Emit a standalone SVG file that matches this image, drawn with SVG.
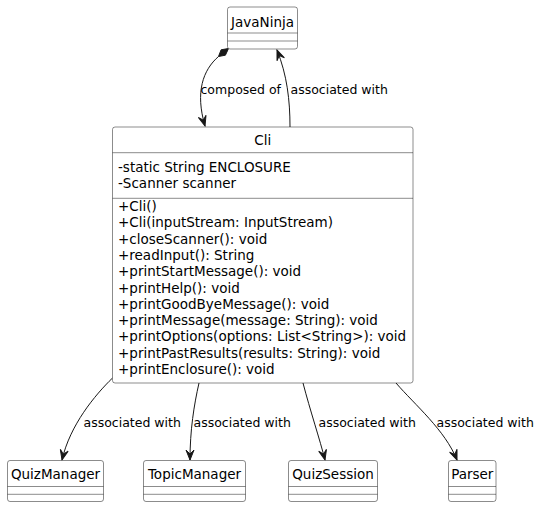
<svg xmlns="http://www.w3.org/2000/svg" width="541" height="508" viewBox="0 0 541 508">
  <style>
    .box { fill: #FFFFFF; stroke: #181818; stroke-width: 0.5; }
    .sep { stroke: #181818; stroke-width: 0.5; }
    .title { font-family: "DejaVu Sans", sans-serif; font-size: 13.5px; fill: #000000; text-anchor: middle; }
    .member { font-family: "DejaVu Sans", sans-serif; font-size: 13.5px; fill: #000000; }
    .edge { fill: none; stroke: #181818; stroke-width: 1; }
    .label { font-family: "DejaVu Sans", sans-serif; font-size: 12.5px; fill: #000000; }
  </style>
  <defs>
    <marker id="arrow" viewBox="-11 -5 12 10" refX="0" refY="0" markerWidth="12" markerHeight="10" markerUnits="userSpaceOnUse" orient="auto">
      <path d="M0,0 L-10,-4 L-6,0 L-10,4 Z" fill="#181818" stroke="#181818" stroke-width="1"/>
    </marker>
  </defs>
  <rect width="541" height="508" fill="#FFFFFF"/>

  <g id="connectors">
    <polygon points="228.5,48.5 225.4,55.2 218.5,56.5 221.1,49.8" fill="#181818" stroke="#181818" stroke-width="1"/>
    <path class="edge" d="M218.5,56.5 C203,70 195,92 205,126" marker-end="url(#arrow)"/>
    <text class="label" x="200.5" y="94">composed of</text>
    <path class="edge" d="M290,127 C290,100 287,75 277,50" marker-end="url(#arrow)"/>
    <text class="label" x="290.5" y="94">associated with</text>

    <path class="edge" d="M112.5,378 C95,395 70,425 62,460" marker-end="url(#arrow)"/>
    <text class="label" x="83.5" y="427">associated with</text>
    <path class="edge" d="M199,383 C194,405 190,430 190,460" marker-end="url(#arrow)"/>
    <text class="label" x="193.5" y="427">associated with</text>
    <path class="edge" d="M303,383 C310,410 320,440 325,460" marker-end="url(#arrow)"/>
    <text class="label" x="318.5" y="427">associated with</text>
    <path class="edge" d="M396,383 C415,405 445,430 457,460" marker-end="url(#arrow)"/>
    <text class="label" x="436.5" y="427">associated with</text>
  </g>

  <g id="JavaNinja">
    <rect class="box" x="227.5" y="7" width="70" height="42" rx="2.5"/>
    <text class="title" x="262.5" y="26.5">JavaNinja</text>
    <line class="sep" x1="227.5" y1="33" x2="297.5" y2="33"/>
    <line class="sep" x1="227.5" y1="41" x2="297.5" y2="41"/>
  </g>

  <g id="Cli">
    <rect class="box" x="112.5" y="127" width="300.5" height="256" rx="2.5"/>
    <text class="title" x="262.75" y="145">Cli</text>
    <line class="sep" x1="112.5" y1="152.7" x2="413" y2="152.7"/>
    <text class="member" x="118" y="171.5">-static String ENCLOSURE</text>
    <text class="member" x="118" y="187.5">-Scanner scanner</text>
    <line class="sep" x1="112.5" y1="198.3" x2="413" y2="198.3"/>
    <text class="member" x="118" y="211">+Cli()</text>
    <text class="member" x="118" y="227.3">+Cli(inputStream: InputStream)</text>
    <text class="member" x="118" y="243.6">+closeScanner(): void</text>
    <text class="member" x="118" y="259.9">+readInput(): String</text>
    <text class="member" x="118" y="276.2">+printStartMessage(): void</text>
    <text class="member" x="118" y="292.5">+printHelp(): void</text>
    <text class="member" x="118" y="308.8">+printGoodByeMessage(): void</text>
    <text class="member" x="118" y="325.1">+printMessage(message: String): void</text>
    <text class="member" x="118" y="341.4">+printOptions(options: List&lt;String&gt;): void</text>
    <text class="member" x="118" y="357.7">+printPastResults(results: String): void</text>
    <text class="member" x="118" y="374">+printEnclosure(): void</text>
  </g>

  <g id="QuizManager">
    <rect class="box" x="7.5" y="460.5" width="96" height="41" rx="2.5"/>
    <text class="title" x="55.5" y="479">QuizManager</text>
    <line class="sep" x1="7.5" y1="486.5" x2="103.5" y2="486.5"/>
    <line class="sep" x1="7.5" y1="494.3" x2="103.5" y2="494.3"/>
  </g>

  <g id="TopicManager">
    <rect class="box" x="143.5" y="460.5" width="102" height="41" rx="2.5"/>
    <text class="title" x="194.5" y="479">TopicManager</text>
    <line class="sep" x1="143.5" y1="486.5" x2="245.5" y2="486.5"/>
    <line class="sep" x1="143.5" y1="494.3" x2="245.5" y2="494.3"/>
  </g>

  <g id="QuizSession">
    <rect class="box" x="288.5" y="460.5" width="89" height="41" rx="2.5"/>
    <text class="title" x="333" y="479">QuizSession</text>
    <line class="sep" x1="288.5" y1="486.5" x2="377.5" y2="486.5"/>
    <line class="sep" x1="288.5" y1="494.3" x2="377.5" y2="494.3"/>
  </g>

  <g id="Parser">
    <rect class="box" x="448.5" y="460.5" width="47.5" height="41" rx="2.5"/>
    <text class="title" x="472.25" y="479">Parser</text>
    <line class="sep" x1="448.5" y1="486.5" x2="496" y2="486.5"/>
    <line class="sep" x1="448.5" y1="494.3" x2="496" y2="494.3"/>
  </g>
</svg>
